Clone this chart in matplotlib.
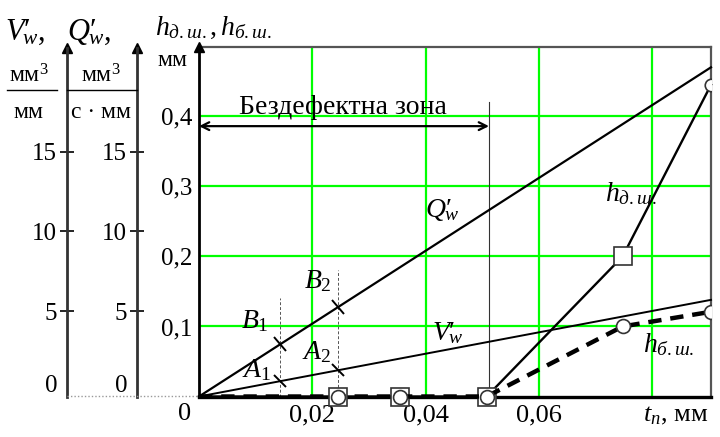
import numpy as np
import matplotlib
matplotlib.use("Agg")
import matplotlib.pyplot as plt
from matplotlib.lines import Line2D
from matplotlib.markers import MarkerStyle
from matplotlib.transforms import Affine2D

plt.rcParams['font.family'] = ['Liberation Serif', 'DejaVu Serif']
plt.rcParams['mathtext.fontset'] = 'custom'
plt.rcParams['mathtext.rm'] = 'Liberation Serif'
plt.rcParams['mathtext.it'] = 'Liberation Serif:italic'

# data
t_lin = [0.0, 0.0904]
q_w = [0.0, 0.47]          # Q'_w (main scale)
v_w = [0.0, 0.138]         # V'_w (main scale)
t_h = [0.0, 0.0245, 0.0355, 0.0508, 0.0748, 0.0904]
h_d = [0.0, 0.0, 0.0, 0.0, 0.2, 0.445]    # h_д.ш.
h_b = [0.0, 0.0, 0.0, 0.0, 0.1, 0.121]    # h_б.ш.
t_marks = [0.0143, 0.0245]
mark_top = [0.14, 0.18]
zone_end = 0.0512
xticks = [0.02, 0.04, 0.06, 0.08]
xtick_labels = ['0,02', '0,04', '0,06', '']
yticks = [0.1, 0.2, 0.3, 0.4]
ytick_labels = ['0,1', '0,2', '0,3', '0,4']
scale_ticks = [5, 10, 15]
scale_labels = ['5', '10', '15']

W, H = 720, 437
FS = 18


def fx(x):
    return x / W


def fy(y):
    return 1 - y / H


fig = plt.figure(figsize=(7.2, 4.37), dpi=100)
ax = fig.add_axes([fx(199), fy(396.5), 512 / W, 349.5 / H])
ax.set_xlim(0, 0.0904)
ax.set_ylim(0, 0.499)

ax.set_xticks(xticks)
ax.set_xticklabels(xtick_labels, fontsize=19)
ax.set_yticks(yticks)
ax.set_yticklabels(ytick_labels, fontsize=FS)
ax.tick_params(axis='x', length=0, pad=6)
ax.tick_params(axis='y', length=0, pad=5)
ax.grid(color='#00ff00', lw=1.6)
ax.set_axisbelow(True)
for s in ['top', 'right']:
    ax.spines[s].set_color('#555555')
    ax.spines[s].set_linewidth(1.6)
ax.spines['left'].set_linewidth(2.0)
ax.spines['bottom'].set_linewidth(2.4)
ax.plot(0, 1, '^', color='black', ms=7, transform=ax.transAxes, clip_on=False, zorder=6)

# lines Q'_w and V'_w
ax.plot(t_lin, q_w, color='black', lw=1.6, zorder=3, clip_on=False)
ax.plot(t_lin, v_w, color='black', lw=1.4, zorder=3, clip_on=False)

# thin dashed guides and cross marks A1 B1 A2 B2
for t, top in zip(t_marks, mark_top):
    ax.plot([t, t], [0, top], color='#555555', lw=0.7, ls=(0, (3, 2)), zorder=2)


def cross(xs, line_x, line_y, ang):
    m = MarkerStyle('|', transform=Affine2D().rotate_deg(ang))
    ax.plot(xs, np.interp(xs, line_x, line_y), ls='none', marker=m,
            ms=13, mew=1.4, color='black', zorder=4)


cross(t_marks, t_lin, q_w, 38)
cross(t_marks, t_lin, v_w, 45)

# h_д.ш. and h_б.ш.
ax.plot(t_h, h_d, color='black', lw=1.7, zorder=4, clip_on=False)
ax.plot(t_h[1:5], h_d[1:5], ls='none', marker='s', ms=13, mfc='white',
        mec='#333333', mew=1.2, zorder=5, clip_on=False)
ax.plot(t_h[5:], h_d[5:], ls='none', marker='o', ms=9, mfc='white',
        mec='#333333', mew=1.2, zorder=5)
ax.plot(t_h, h_b, color='black', lw=3.2, dashes=(3, 2), zorder=6, clip_on=False)
ax.plot(t_h[1:5], h_b[1:5], ls='none', marker='o', ms=10, mfc='white',
        mec='#333333', mew=1.2, zorder=7, clip_on=False)
ax.plot(t_h[5:], h_b[5:], ls='none', marker='o', ms=10, mfc='white',
        mec='#333333', mew=1.2, zorder=7)

# defect-free zone
ax.plot([zone_end, zone_end], [0, 0.42], color='#333333', lw=0.8, zorder=2)
ax.annotate('', xy=(0, 0.386), xytext=(zone_end, 0.386),
            arrowprops=dict(arrowstyle='<->', color='black', lw=1.6,
                            mutation_scale=14, shrinkA=0, shrinkB=0), zorder=5)
ax.text(0.0254, 0.4125, 'Бездефектна зона', fontsize=20, ha='center', va='center')

# curve labels
it = dict(fontsize=20, ha='center', va='center')
ax.text(0.0429, 0.266, r"$Q′_{\!\!\!w}$", **it)
ax.text(0.0438, 0.091, r"$V′_{\!\!\!w}$", **it)
ax.text(0.0099, 0.107, r"$B_1$", **it)
ax.text(0.0210, 0.164, r"$B_2$", **it)
ax.text(0.0102, 0.038, r"$A_1$", **it)
ax.text(0.0208, 0.063, r"$A_2$", **it)
ax.text(0.0763, 0.290, r"$h_{д.ш.}$", **it)
ax.text(0.0830, 0.074, r"$h_{б.ш.}$", **it)

# left scales
lo = -0.367
hi = 21.51
for xp in [67, 137]:
    sa = fig.add_axes([fx(xp), fy(396.5), 0.0001, (396.5 - 48) / H])
    sa.set_ylim(lo, hi)
    sa.set_xticks([])
    sa.set_yticks(scale_ticks)
    sa.set_yticklabels(scale_labels)
    sa.tick_params(axis='y', direction='inout', length=10, width=1.2,
                   labelsize=FS, pad=2)
    for s in ['top', 'right', 'bottom']:
        sa.spines[s].set_visible(False)
    sa.spines['left'].set_linewidth(2.0)
    sa.spines['left'].set_color('#333333')
    sa.patch.set_visible(False)
    sa.plot(0, 1, '^', color='black', ms=7, transform=sa.transAxes, clip_on=False)
    sa.annotate('0', xy=(0, 0.3), xycoords=sa.get_yaxis_transform(),
                xytext=(-9, 0), textcoords='offset pixels', fontsize=FS,
                ha='right', va='center')

# dotted baseline from the left scales
fig.add_artist(Line2D([fx(67), fx(199)], [fy(396), fy(396)], color='#999999',
                      lw=1.0, ls=(0, (1, 1.5))))

# fraction units
fig.add_artist(Line2D([fx(7), fx(57)], [fy(90), fy(90)], color='black', lw=1.0))
fig.add_artist(Line2D([fx(67), fx(137)], [fy(90), fy(90)], color='black', lw=1.0))
fig.text(fx(29), fy(76), r"мм$^3$", fontsize=17, ha='center', va='center')
fig.text(fx(28), fy(113), "мм", fontsize=17, ha='center', va='center')
fig.text(fx(101), fy(76), r"мм$^3$", fontsize=17, ha='center', va='center')
fig.text(fx(101), fy(113), "с · мм", fontsize=17, ha='center', va='center')
fig.text(fx(172), fy(61), "мм", fontsize=17, ha='center', va='center')

# axis titles
fig.text(fx(5), fy(32), r"$V′_{\!\!\!w}$,", fontsize=22, ha='left', va='center')
fig.text(fx(67), fy(32), r"$Q′_{\!\!\!w}$,", fontsize=22, ha='left', va='center')
fig.text(fx(155), fy(28), r"$h_{д.ш.},h_{б.ш.}$", fontsize=20, ha='left', va='center')
fig.text(fx(185), fy(414), "0", fontsize=19, ha='center', va='center')
fig.text(fx(643), fy(416), r"$t_n$, мм", fontsize=19, ha='left', va='center')

fig.savefig("out.png", dpi=100)
